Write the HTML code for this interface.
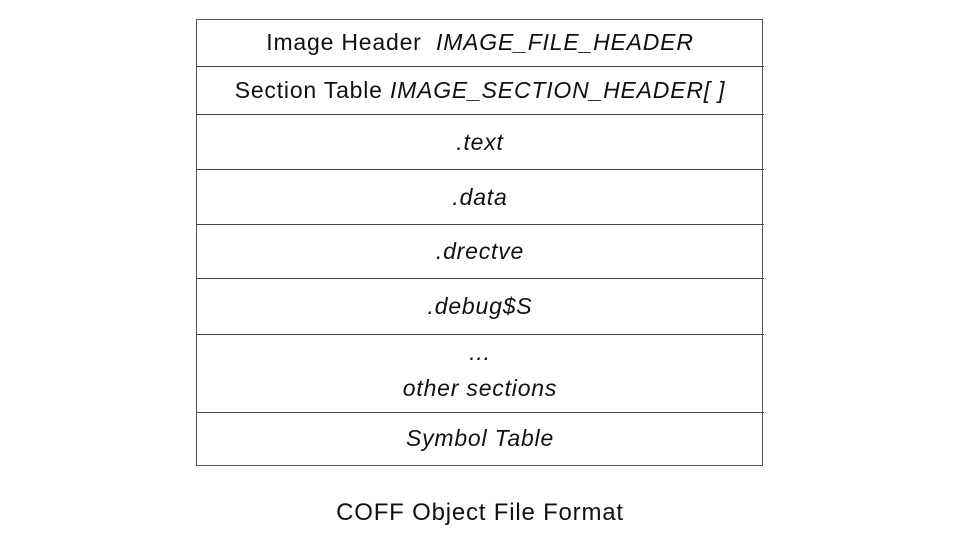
<!DOCTYPE html>
<html><head><style>
body{margin:0;width:959px;height:537px;background:#fff;position:relative;overflow:hidden;font-family:"Liberation Sans",Arial,sans-serif;color:#111}
.box{position:absolute;left:196px;top:19px;width:567px;height:447px;border:1.5px solid #555;box-sizing:border-box}
.ln{position:absolute;left:196px;width:568px;height:0;border-top:1.5px solid #444}
.t{position:absolute;left:196px;width:568px;text-align:center;font-size:23px;letter-spacing:0.8px;line-height:26px;transform:translateY(-13px)}
i{font-style:italic}
</style></head><body>
<div class="box"></div>
<div class="ln" style="top:66px"></div>
<div class="ln" style="top:114px"></div>
<div class="ln" style="top:169px"></div>
<div class="ln" style="top:224px"></div>
<div class="ln" style="top:278px"></div>
<div class="ln" style="top:334px"></div>
<div class="ln" style="top:412px"></div>
<div class="t" style="top:42px">Image Header&nbsp; <i>IMAGE_FILE_HEADER</i></div>
<div class="t" style="top:90px">Section Table <i>IMAGE_SECTION_HEADER[ ]</i></div>
<div class="t" style="top:142px"><i>.text</i></div>
<div class="t" style="top:197px"><i>.data</i></div>
<div class="t" style="top:251px"><i>.drectve</i></div>
<div class="t" style="top:306px"><i>.debug$S</i></div>
<div class="t" style="top:352px"><i>...</i></div>
<div class="t" style="top:388px"><i>other sections</i></div>
<div class="t" style="top:438px"><i>Symbol Table</i></div>
<div class="t" style="top:513px;font-size:24px">COFF Object File Format</div>
</body></html>
